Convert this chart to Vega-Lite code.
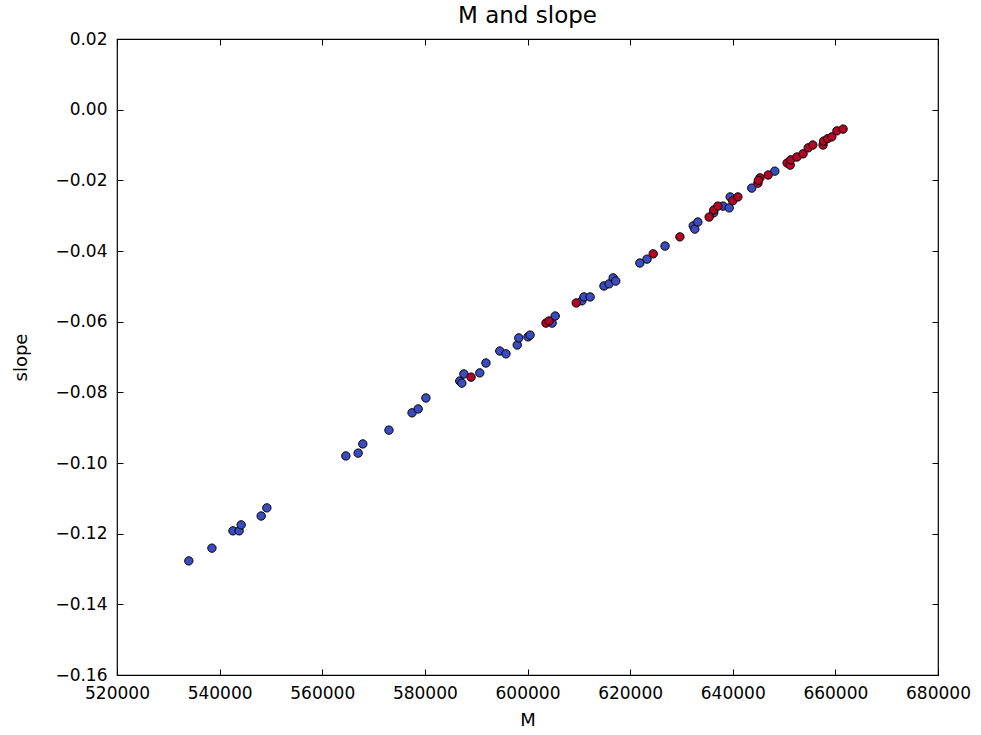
{
  "$schema": "https://vega.github.io/schema/vega-lite/v6.json",
  "width": 821,
  "height": 636,
  "autosize": {"type": "none"},
  "padding": {"left": 117, "top": 39, "right": 43, "bottom": 60},
  "background": "white",
  "title": {"text": "M and slope", "fontSize": 23, "font": "DejaVu Sans", "fontWeight": "normal", "offset": 2, "color": "black"},
  "config": {
    "view": {"stroke": "black", "strokeWidth": 1.2},
    "axis": {"labelFont": "DejaVu Sans", "titleFont": "DejaVu Sans", "labelFontSize": 17, "titleFontSize": 18, "titleFontWeight": "normal", "labelColor": "black", "titleColor": "black", "grid": false, "domain": false, "tickColor": "black", "tickSize": -6, "labelFlush": false, "labelOverlap": false}
  },
  "data": {"values": [
    {"M": 534000, "slope": -0.1277, "c": "0"},
    {"M": 538500, "slope": -0.1241, "c": "0"},
    {"M": 542600, "slope": -0.1192, "c": "0"},
    {"M": 543800, "slope": -0.1192, "c": "0"},
    {"M": 544200, "slope": -0.1175, "c": "0"},
    {"M": 548100, "slope": -0.1150, "c": "0"},
    {"M": 549200, "slope": -0.1127, "c": "0"},
    {"M": 564600, "slope": -0.0980, "c": "0"},
    {"M": 567000, "slope": -0.0972, "c": "0"},
    {"M": 567900, "slope": -0.0946, "c": "0"},
    {"M": 573000, "slope": -0.0907, "c": "0"},
    {"M": 577500, "slope": -0.0858, "c": "0"},
    {"M": 578700, "slope": -0.0847, "c": "0"},
    {"M": 580200, "slope": -0.0816, "c": "0"},
    {"M": 586800, "slope": -0.0768, "c": "0"},
    {"M": 587200, "slope": -0.0774, "c": "0"},
    {"M": 587600, "slope": -0.0748, "c": "0"},
    {"M": 590700, "slope": -0.0745, "c": "0"},
    {"M": 591900, "slope": -0.0717, "c": "0"},
    {"M": 594600, "slope": -0.0683, "c": "0"},
    {"M": 595800, "slope": -0.0691, "c": "0"},
    {"M": 598000, "slope": -0.0666, "c": "0"},
    {"M": 598300, "slope": -0.0646, "c": "0"},
    {"M": 600100, "slope": -0.0643, "c": "0"},
    {"M": 600500, "slope": -0.0638, "c": "0"},
    {"M": 604800, "slope": -0.0604, "c": "0"},
    {"M": 605400, "slope": -0.0584, "c": "0"},
    {"M": 610600, "slope": -0.0541, "c": "0"},
    {"M": 611000, "slope": -0.0530, "c": "0"},
    {"M": 612200, "slope": -0.0530, "c": "0"},
    {"M": 614900, "slope": -0.0499, "c": "0"},
    {"M": 615900, "slope": -0.0493, "c": "0"},
    {"M": 616700, "slope": -0.0476, "c": "0"},
    {"M": 617200, "slope": -0.0485, "c": "0"},
    {"M": 621900, "slope": -0.0434, "c": "0"},
    {"M": 623300, "slope": -0.0423, "c": "0"},
    {"M": 626800, "slope": -0.0386, "c": "0"},
    {"M": 632300, "slope": -0.0329, "c": "0"},
    {"M": 632600, "slope": -0.0338, "c": "0"},
    {"M": 633200, "slope": -0.0318, "c": "0"},
    {"M": 636300, "slope": -0.0292, "c": "0"},
    {"M": 638100, "slope": -0.0273, "c": "0"},
    {"M": 639300, "slope": -0.0278, "c": "0"},
    {"M": 639500, "slope": -0.0247, "c": "0"},
    {"M": 643700, "slope": -0.0222, "c": "0"},
    {"M": 648200, "slope": -0.0174, "c": "0"},
    {"M": 589000, "slope": -0.0757, "c": "1"},
    {"M": 603600, "slope": -0.0604, "c": "1"},
    {"M": 604200, "slope": -0.0598, "c": "1"},
    {"M": 609500, "slope": -0.0547, "c": "1"},
    {"M": 624500, "slope": -0.0408, "c": "1"},
    {"M": 629700, "slope": -0.0360, "c": "1"},
    {"M": 635400, "slope": -0.0304, "c": "1"},
    {"M": 636300, "slope": -0.0284, "c": "1"},
    {"M": 637100, "slope": -0.0273, "c": "1"},
    {"M": 640000, "slope": -0.0258, "c": "1"},
    {"M": 641000, "slope": -0.0247, "c": "1"},
    {"M": 644900, "slope": -0.0208, "c": "1"},
    {"M": 645300, "slope": -0.0193, "c": "1"},
    {"M": 645000, "slope": -0.0200, "c": "1"},
    {"M": 646900, "slope": -0.0185, "c": "1"},
    {"M": 650600, "slope": -0.0151, "c": "1"},
    {"M": 651200, "slope": -0.0157, "c": "1"},
    {"M": 651300, "slope": -0.0142, "c": "1"},
    {"M": 652500, "slope": -0.0134, "c": "1"},
    {"M": 653700, "slope": -0.0125, "c": "1"},
    {"M": 654700, "slope": -0.0108, "c": "1"},
    {"M": 655600, "slope": -0.0100, "c": "1"},
    {"M": 657600, "slope": -0.0100, "c": "1"},
    {"M": 657700, "slope": -0.0089, "c": "1"},
    {"M": 658500, "slope": -0.0082, "c": "1"},
    {"M": 659300, "slope": -0.0077, "c": "1"},
    {"M": 660300, "slope": -0.0060, "c": "1"},
    {"M": 661500, "slope": -0.0055, "c": "1"}
  ]},
  "layer": [
    {
      "mark": {"type": "point", "filled": true, "shape": "circle", "size": 70, "stroke": "black", "strokeWidth": 1, "opacity": 1},
      "encoding": {
        "x": {"field": "M", "type": "quantitative", "title": "M", "scale": {"domain": [520000, 680000], "nice": false, "zero": false}, "axis": {"values": [520000, 540000, 560000, 580000, 600000, 620000, 640000, 660000, 680000], "format": "d", "labelPadding": 16, "titleY": 36, "titleBaseline": "top"}},
        "y": {"field": "slope", "type": "quantitative", "title": "slope", "scale": {"domain": [-0.16, 0.02], "nice": false, "zero": false}, "axis": {"values": [-0.16, -0.14, -0.12, -0.1, -0.08, -0.06, -0.04, -0.02, 0, 0.02], "format": ".2f", "labelPadding": 16, "titlePadding": 24}},
        "fill": {"field": "c", "type": "nominal", "scale": {"domain": ["0", "1"], "range": ["#3b4cc0", "#b40426"]}, "legend": null}
      }
    },
    {
      "mark": {"type": "point", "opacity": 0},
      "encoding": {
        "x": {"field": "M", "type": "quantitative", "axis": {"orient": "top", "labels": false, "title": null, "values": [520000, 540000, 560000, 580000, 600000, 620000, 640000, 660000, 680000]}},
        "y": {"field": "slope", "type": "quantitative", "axis": {"orient": "right", "labels": false, "title": null, "values": [-0.16, -0.14, -0.12, -0.1, -0.08, -0.06, -0.04, -0.02, 0, 0.02]}}
      }
    }
  ],
  "resolve": {"axis": {"x": "independent", "y": "independent"}}
}
